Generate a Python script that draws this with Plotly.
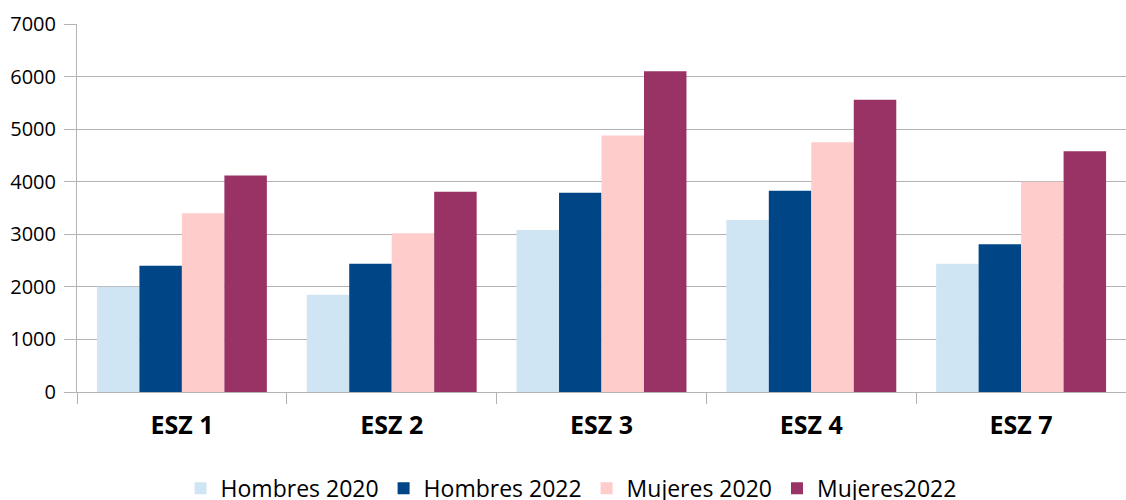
import plotly.graph_objects as go

categories = ["ESZ 1", "ESZ 2", "ESZ 3", "ESZ 4", "ESZ 7"]
hombres_2020 = [2000, 1850, 3080, 3270, 2440]
hombres_2022 = [2400, 2440, 3790, 3830, 2810]
mujeres_2020 = [3400, 3020, 4880, 4750, 4000]
mujeres_2022 = [4120, 3810, 6100, 5560, 4580]

series = [
    ("Hombres 2020", hombres_2020, "#cfe5f3"),
    ("Hombres 2022", hombres_2022, "#004586"),
    ("Mujeres 2020", mujeres_2020, "#ffcccc"),
    ("Mujeres2022", mujeres_2022, "#993366"),
]

fig = go.Figure()
for name, vals, color in series:
    fig.add_trace(go.Bar(x=categories, y=vals, name=name, marker_color=color,
                         marker_line_width=0))

axis_gray = "#b3b3b3"
font_family = "Open Sans, DejaVu Sans"

# the photographed page comes out a little squeezed vertically, so the figure
# is laid out at 510 to land where the reference is
fig.update_layout(
    width=1126, height=510,
    barmode="group",
    bargap=0.19,
    bargroupgap=0,
    paper_bgcolor="white",
    plot_bgcolor="white",
    font=dict(family=font_family, color="black"),
    margin=dict(l=77, r=0, t=24, b=114),
    xaxis=dict(
        showline=True, linecolor=axis_gray, linewidth=1,
        ticks="outside", tickson="boundaries", ticklen=11, tickcolor=axis_gray,
        tickfont=dict(size=25),
        ticklabelstandoff=11,
        showgrid=False, automargin=False,
    ),
    yaxis=dict(
        range=[0, 7000], tickvals=[0, 1000, 2000, 3000, 4000, 5000, 6000, 7000],
        showline=True, linecolor=axis_gray, linewidth=1,
        ticks="outside", ticklen=12, tickcolor=axis_gray,
        showgrid=True, gridcolor=axis_gray, gridwidth=1,
        zeroline=False, automargin=False,
        tickfont=dict(size=20),
        ticklabelstandoff=4,
    ),
    legend=dict(
        orientation="h", x=0.471, xanchor="center", y=-0.262, yanchor="middle",
        font=dict(size=23),
        itemwidth=30,
        traceorder="normal",
    ),
)
fig.update_xaxes(tickprefix="<b>", ticksuffix="</b>")

# no page margin, no stray line-box space under the plot, no scrollbars
page_fix = ("document.documentElement.style.margin='0';"
            "document.documentElement.style.overflow='hidden';"
            "document.body.style.margin='0';"
            "document.body.style.overflow='hidden';"
            "document.body.style.fontSize='0';"
            "document.body.style.lineHeight='0';"
            "document.getElementById('{plot_id}').style.overflow='hidden';")
fig.write_html("out.html", config={"displayModeBar": False}, post_script=page_fix)
